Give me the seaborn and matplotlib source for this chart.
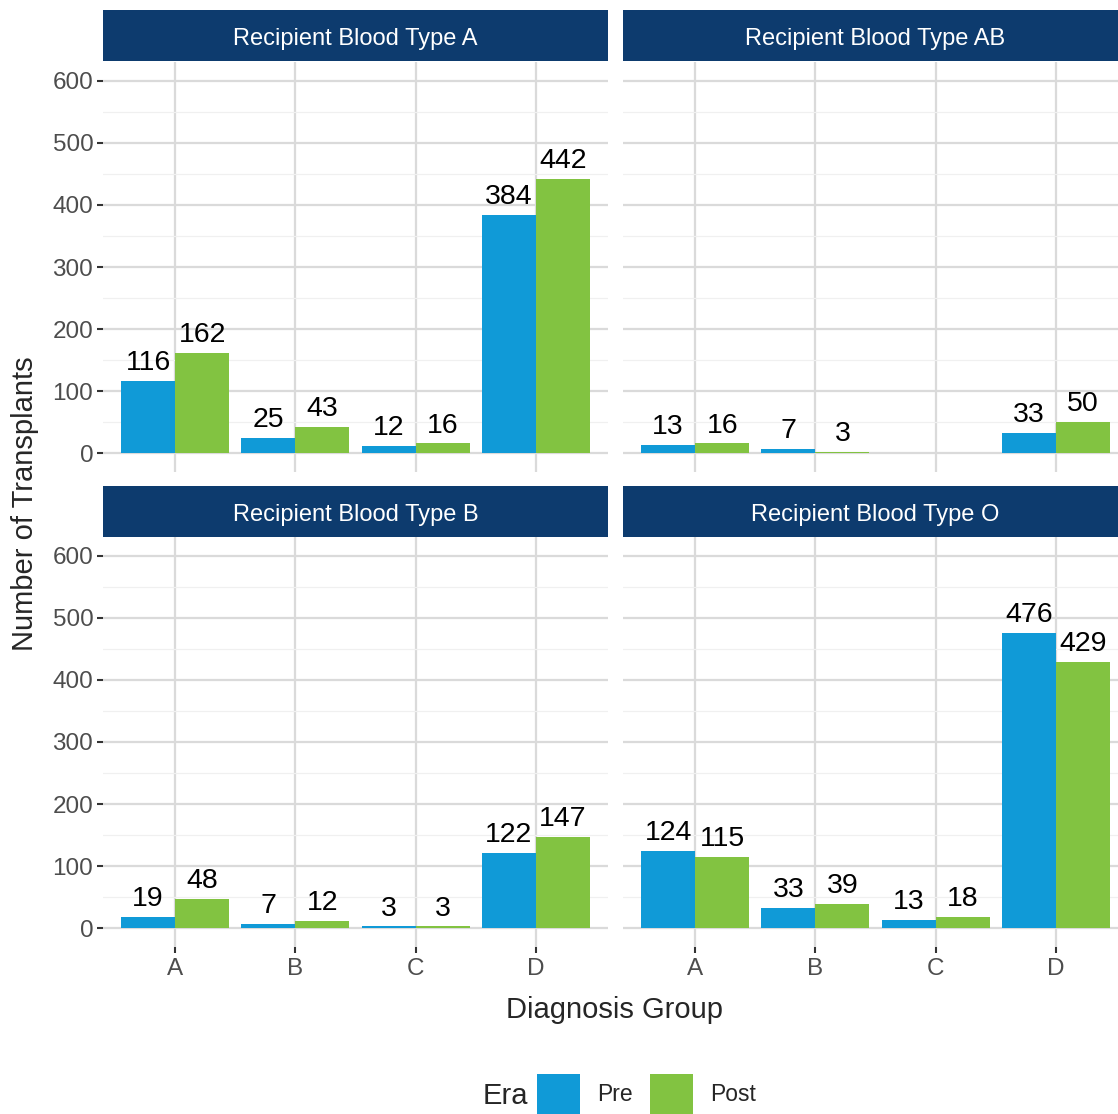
import pandas as pd
import matplotlib.pyplot as plt
import seaborn as sns
from matplotlib.patches import Patch

# Data
groups = ["A", "B", "C", "D"]
eras = ["Pre", "Post"]
panels = ["A", "AB", "B", "O"]

pre_A = [116, 25, 12, 384]
post_A = [162, 43, 16, 442]
pre_AB = [13, 7, None, 33]
post_AB = [16, 3, None, 50]
pre_B = [19, 7, 3, 122]
post_B = [48, 12, 3, 147]
pre_O = [124, 33, 13, 476]
post_O = [115, 39, 18, 429]

values = {
    "A": (pre_A, post_A),
    "AB": (pre_AB, post_AB),
    "B": (pre_B, post_B),
    "O": (pre_O, post_O),
}

rows = []
for bt in panels:
    for era, vals in zip(eras, values[bt]):
        for g, v in zip(groups, vals):
            if v is not None:
                rows.append({"blood": bt, "group": g, "era": era, "n": v})
df = pd.DataFrame(rows)

colors = {"Pre": "#109AD7", "Post": "#82C341"}
strip_color = "#0D3B6E"
major_grid = "#DADADA"
minor_grid = "#F0F0F0"
tick_text = "#4D4D4D"

sns.set_style("white")
plt.rcParams["font.family"] = ["Liberation Sans", "DejaVu Sans"]

W, H = 1118, 1114
fig = plt.figure(figsize=(W / 100, H / 100), dpi=100)


def px_box(x0, y0, x1, y1):
    return [x0 / W, 1 - y1 / H, (x1 - x0) / W, (y1 - y0) / H]


# right-hand panels run past the image edge, as in the reference
layout = {
    "A": (103, 62, 608, 472, 10),
    "AB": (623, 62, 1128, 472, 10),
    "B": (103, 537, 608, 947, 486),
    "O": (623, 537, 1128, 947, 486),
}

for bt in panels:
    x0, y0, x1, y1, sy = layout[bt]
    ax = fig.add_axes(px_box(x0, y0, x1, y1))
    sub = df[df["blood"] == bt]
    sns.barplot(
        data=sub, x="group", y="n", hue="era", order=groups, hue_order=eras,
        palette=colors, width=0.9, saturation=1, errorbar=None,
        linewidth=0, legend=False, ax=ax,
    )
    for cont in ax.containers:
        ax.bar_label(cont, fmt="%d", padding=3.5, fontsize=20.5, color="black")

    ax.set_xlim(-0.6, 3.6)
    ax.set_ylim(-30, 630)
    ax.set_yticks(range(0, 601, 100))
    ax.set_yticks(range(50, 600, 100), minor=True)
    ax.set_axisbelow(True)
    ax.yaxis.grid(True, which="major", color=major_grid, lw=1.6)
    ax.yaxis.grid(True, which="minor", color=minor_grid, lw=0.9)
    ax.xaxis.grid(True, which="major", color=major_grid, lw=1.6)
    for s in ax.spines.values():
        s.set_visible(False)
    ax.set_xlabel("")
    ax.set_ylabel("")
    ax.tick_params(which="minor", length=0)

    left = bt in ("A", "B")
    bottom = bt in ("B", "O")
    ax.tick_params(axis="y", which="major", left=left, labelleft=left,
                   length=4.5, width=1.5, color="#333333", pad=2.5,
                   labelsize=17.5, labelcolor=tick_text)
    ax.tick_params(axis="x", which="major", bottom=bottom, labelbottom=bottom,
                   length=4.5, width=1.5, color="#333333", pad=3.5,
                   labelsize=17.5, labelcolor=tick_text)

    # strip header
    sax = fig.add_axes(px_box(x0, sy, x1, sy + 51))
    sax.set_facecolor(strip_color)
    sax.set_xticks([])
    sax.set_yticks([])
    for s in sax.spines.values():
        s.set_visible(False)
    sax.text((608 - 103) / 2 / (x1 - x0), 0.44, f"Recipient Blood Type {bt}",
             color="white", fontsize=17, ha="center", va="center",
             transform=sax.transAxes)

fig.text(25 / W, 1 - 504 / H, "Number of Transplants", rotation=90,
         fontsize=21, ha="center", va="center")
fig.text(615 / W, 1 - 1010 / H, "Diagnosis Group", fontsize=21,
         ha="center", va="center")

fig.text(505 / W, 1 - 1096 / H, "Era", fontsize=21, ha="center", va="center")
handles = [Patch(facecolor=colors[e], edgecolor="none") for e in eras]
fig.legend(
    handles, eras, loc="center left", bbox_to_anchor=(537 / W, 1 - 1094 / H),
    ncol=2, frameon=False, fontsize=16.5, handlelength=1.87, handleheight=2.3,
    handletextpad=0.74, columnspacing=0.78, borderpad=0, borderaxespad=0,
)

fig.savefig("out.png", dpi=100)
